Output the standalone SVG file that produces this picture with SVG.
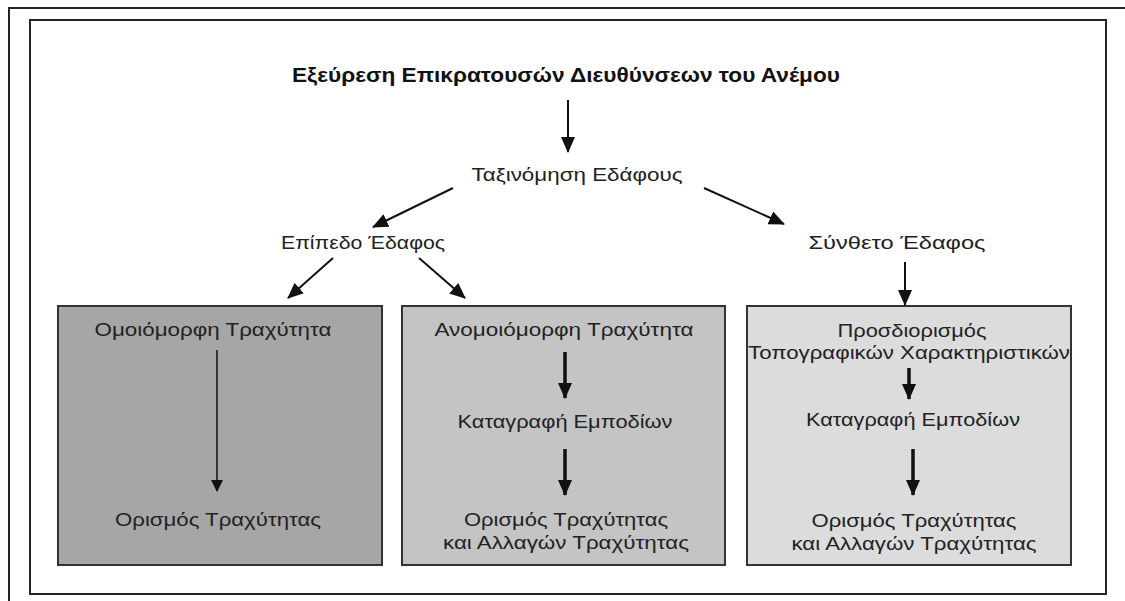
<svg xmlns="http://www.w3.org/2000/svg" width="1125" height="601" viewBox="0 0 1125 601">
<defs>
<style>
.t{font-family:"Liberation Sans",Arial,sans-serif;font-size:18px;fill:#222;text-anchor:middle}
.title{font-family:"Liberation Sans Narrow","Liberation Sans",Arial,sans-serif;font-size:20px;font-weight:bold;fill:#111;text-anchor:middle}
.box{stroke:#333;stroke-width:2}
.c{stroke:#111;fill:none;stroke-width:2}
.thin{stroke:#111;fill:none;stroke-width:1.5}
.thick{stroke:#111;fill:none;stroke-width:3.5}
</style>
<marker id="ah" viewBox="0 0 16 14" refX="15" refY="7" markerWidth="16" markerHeight="14" markerUnits="userSpaceOnUse" orient="auto"><path d="M0,0 L16,7 L0,14 z" fill="#111"/></marker>
<marker id="ahs" viewBox="0 0 12 12" refX="11" refY="6" markerWidth="12" markerHeight="12" markerUnits="userSpaceOnUse" orient="auto"><path d="M0,0 L12,6 L0,12 z" fill="#111"/></marker>
</defs>
<rect width="1125" height="601" fill="#fff"/>
<g id="frame" fill="none" stroke="#222" stroke-width="2">
<path d="M9,601 V8 H1125"/>
<rect x="30" y="20" width="1076" height="574"/>
</g>
<g id="title"><text class="title" x="566" y="82" textLength="548" lengthAdjust="spacingAndGlyphs">Εξεύρεση Επικρατουσών Διευθύνσεων του Ανέμου</text></g>
<g id="taxinomisi"><text class="t" x="577" y="181" textLength="211" lengthAdjust="spacingAndGlyphs">Ταξινόμηση Εδάφους</text></g>
<g id="epipedo"><text class="t" x="363" y="249" textLength="164" lengthAdjust="spacingAndGlyphs">Επίπεδο Έδαφος</text></g>
<g id="syntheto"><text class="t" x="897" y="249" textLength="177" lengthAdjust="spacingAndGlyphs">Σύνθετο Έδαφος</text></g>
<g id="box1">
<rect class="box" x="58" y="306" width="324" height="259" fill="#a6a6a6"/>
<text class="t" x="213" y="336" textLength="237" lengthAdjust="spacingAndGlyphs">Ομοιόμορφη Τραχύτητα</text>
<text class="t" x="218" y="526" textLength="206" lengthAdjust="spacingAndGlyphs">Ορισμός Τραχύτητας</text>
</g>
<g id="box2">
<rect class="box" x="402" y="306" width="323" height="259" fill="#c4c4c4"/>
<text class="t" x="564" y="336" textLength="259" lengthAdjust="spacingAndGlyphs">Ανομοιόμορφη Τραχύτητα</text>
<text class="t" x="565" y="428" textLength="215" lengthAdjust="spacingAndGlyphs">Καταγραφή Εμποδίων</text>
<text class="t" x="566" y="526" textLength="204" lengthAdjust="spacingAndGlyphs">Ορισμός Τραχύτητας</text>
<text class="t" x="566" y="549" textLength="246" lengthAdjust="spacingAndGlyphs">και Αλλαγών Τραχύτητας</text>
</g>
<g id="box3">
<rect class="box" x="747" y="306" width="324" height="259" fill="#dcdcdc"/>
<text class="t" x="912" y="337" textLength="149" lengthAdjust="spacingAndGlyphs">Προσδιορισμός</text>
<text class="t" x="909" y="359" textLength="322" lengthAdjust="spacingAndGlyphs">Τοπογραφικών Χαρακτηριστικών</text>
<text class="t" x="913" y="426" textLength="214" lengthAdjust="spacingAndGlyphs">Καταγραφή Εμποδίων</text>
<text class="t" x="914" y="527" textLength="205" lengthAdjust="spacingAndGlyphs">Ορισμός Τραχύτητας</text>
<text class="t" x="914" y="550" textLength="245" lengthAdjust="spacingAndGlyphs">και Αλλαγών Τραχύτητας</text>
</g>
<g id="connectors">
<line class="c" x1="568" y1="100" x2="568" y2="152" marker-end="url(#ah)"/>
<line class="c" x1="453" y1="188" x2="373" y2="227" marker-end="url(#ah)"/>
<line class="c" x1="704" y1="188" x2="784" y2="224" marker-end="url(#ah)"/>
<line class="c" x1="333" y1="258" x2="288" y2="298" marker-end="url(#ah)"/>
<line class="c" x1="419" y1="258" x2="465" y2="298" marker-end="url(#ah)"/>
<line class="c" x1="905" y1="262" x2="905" y2="305" marker-end="url(#ah)"/>
<line class="thin" x1="217" y1="350" x2="217" y2="491" marker-end="url(#ahs)"/>
<line class="thick" x1="565" y1="352" x2="565" y2="398" marker-end="url(#ah)"/>
<line class="thick" x1="565" y1="449" x2="565" y2="495" marker-end="url(#ah)"/>
<line class="thick" x1="909" y1="368" x2="909" y2="399" marker-end="url(#ah)"/>
<line class="thick" x1="913" y1="449" x2="913" y2="495" marker-end="url(#ah)"/>
</g>
</svg>
